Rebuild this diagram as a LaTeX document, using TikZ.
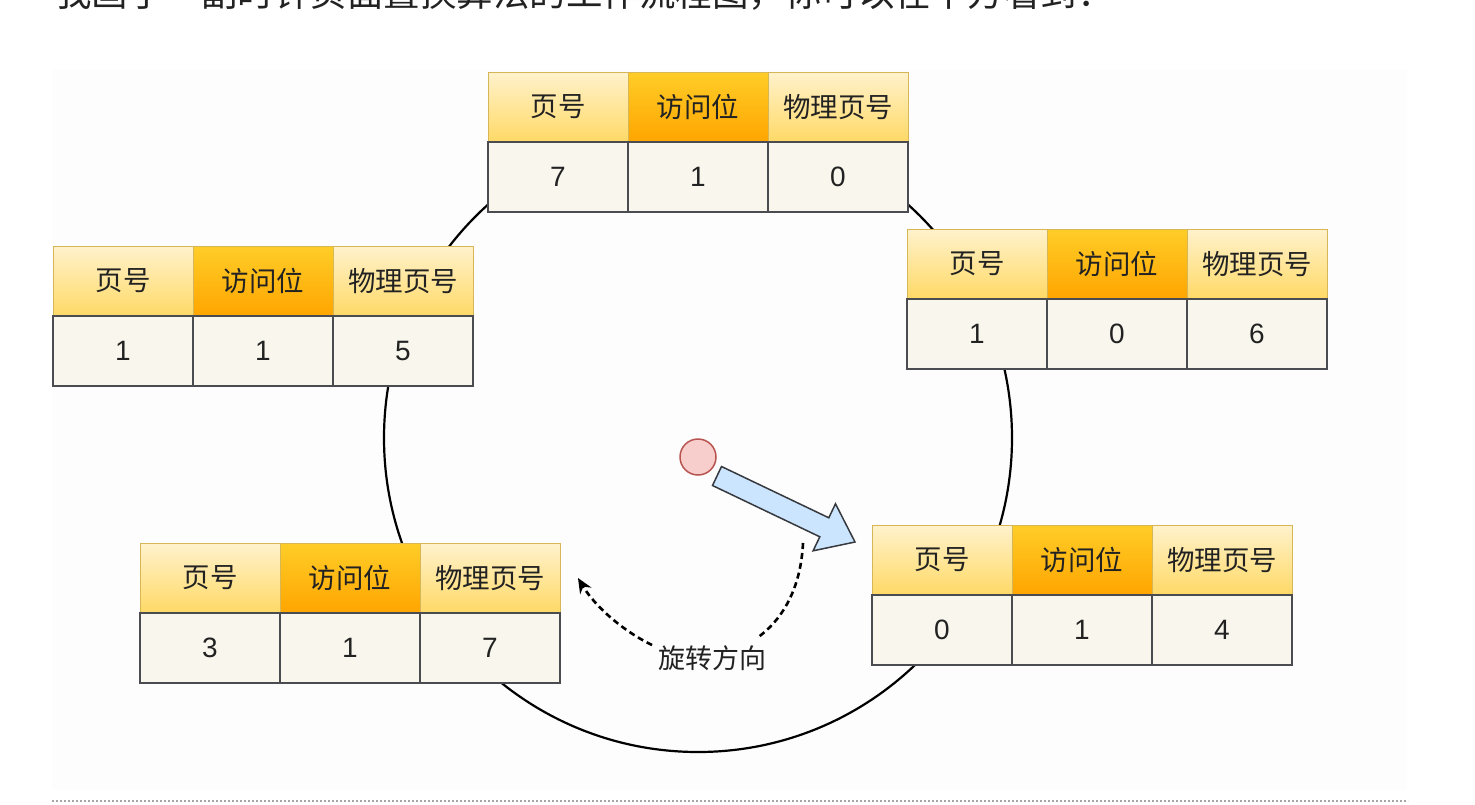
\documentclass[tikz,border=0pt]{standalone}
\usepackage{fontspec}
\setmainfont{Noto Sans CJK SC}
\newfontfamily\numfont{Liberation Sans}
\usetikzlibrary{arrows.meta,calc}
\definecolor{hdrtop}{HTML}{FFF2CC}
\definecolor{hdrbot}{HTML}{FFD966}
\definecolor{acctop}{HTML}{FFCD28}
\definecolor{accbot}{HTML}{FFA500}
\definecolor{hdrline}{HTML}{D6B656}
\definecolor{datafill}{HTML}{F9F7ED}
\definecolor{dataline}{HTML}{4A4C50}
\definecolor{txt}{HTML}{222222}
\definecolor{bluefill}{HTML}{CCE5FF}
\definecolor{blueline}{HTML}{36393D}
\definecolor{redfill}{HTML}{F8CECC}
\definecolor{redline}{HTML}{B85450}
\definecolor{bgfill}{HTML}{FDFDFD}
\tikzset{
  cellbase/.style={rectangle, minimum width=140pt, minimum height=70pt, inner sep=0pt, text=txt},
  hdrcell/.style={cellbase, top color=hdrtop, bottom color=hdrbot, draw=hdrline, line width=1pt, font=\fontsize{27.5}{30}\selectfont},
  acccell/.style={cellbase, top color=acctop, bottom color=accbot, draw=hdrline, line width=1pt, font=\fontsize{27.5}{30}\selectfont},
  datacell/.style={cellbase, fill=datafill, draw=dataline, line width=1.5pt, font=\numfont\fontsize{28}{30}\selectfont},
}
\newcommand\pgtable[6]{%
  \node[hdrcell] (#1h1) at ({#2+70},{#3+35}) {页号};
  \node[acccell] (#1h2) at ({#2+210},{#3+35}) {访问位};
  \node[hdrcell] (#1h3) at ({#2+350},{#3+35}) {物理页号};
  \node[datacell] (#1d1) at ({#2+70},{#3+105}) {#4};
  \node[datacell] (#1d2) at ({#2+210},{#3+105}) {#5};
  \node[datacell] (#1d3) at ({#2+350},{#3+105}) {#6};
}
\begin{document}
\begin{tikzpicture}[x=1pt,y=-1pt]
\useasboundingbox (0,0) rectangle (1475,804);
\fill[white] (0,0) rectangle (1475,804);
\fill[bgfill] (52,70) rectangle (1407,790);
\begin{scope}
  \clip (0,0) rectangle (1475,804);
  \node[anchor=base west, inner sep=0pt, text=txt, font=\fontsize{36.5}{40}\selectfont] (intro) at (55,6) {我画了一副时钟页面置换算法的工作流程图，你可以在下方看到：};
\end{scope}
\draw[gray!70, line width=1.5pt, dash pattern=on 2pt off 2pt] (52,801) -- (1408,801);
% clock circle
\node[circle, draw=black, line width=2.2pt, minimum size=628pt, inner sep=0pt] (clock) at (698,438) {};
% tables
\pgtable{t}{488}{72}{7}{1}{0}
\pgtable{l}{53}{246}{1}{1}{5}
\pgtable{r}{907}{229}{1}{0}{6}
\pgtable{bl}{140}{543}{3}{1}{7}
\pgtable{br}{872}{525}{0}{1}{4}
% hand
\node[circle, fill=redfill, draw=redline, line width=1.5pt, minimum size=36pt, inner sep=0pt] (hub) at (698,457) {};
\draw[fill=bluefill, draw=blueline, line width=1.5pt, line join=miter]
  (712.5,485.5) -- (819.8,536.8) -- (813.1,550.8) -- (855,542) -- (835.5,503.8) -- (828.8,517.8) -- (721.5,466.5) -- cycle;
% rotation direction
\node[text=txt, inner sep=2pt, font=\fontsize{27}{30}\selectfont] (rot) at (712,658) {旋转方向};
\coordinate (rs) at (803,543);
\coordinate (re) at (757,638);
\coordinate (ls) at (652,645);
\coordinate (le) at (578,578);
\draw[black, line width=2.6pt, dash pattern=on 6pt off 4pt] (rs) .. controls (801,585) and (785,618) .. (re);
\draw[black, line width=2.6pt, dash pattern=on 6pt off 4pt, -{Stealth[length=15pt,width=13pt]}] (ls) .. controls (625,632) and (596,608) .. (le);
\end{tikzpicture}
\end{document}
